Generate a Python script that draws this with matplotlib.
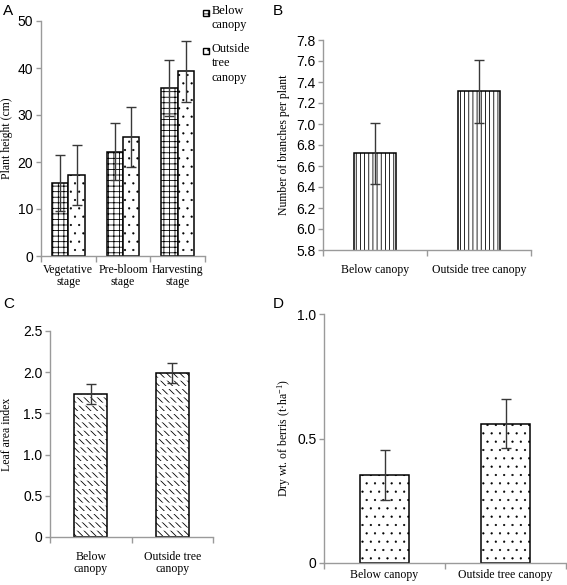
import matplotlib
matplotlib.use("Agg")
import matplotlib.pyplot as plt
import numpy as np
from matplotlib.patches import Rectangle

# ---------------- data ----------------
stages = ["Vegetative\nstage", "Pre-bloom\nstage", "Harvesting\nstage"]
height_below = [15.5, 22.2, 35.8]
height_below_err = [6.0, 6.0, 6.0]
height_outside = [17.2, 25.3, 39.3]
height_outside_err = [6.4, 6.4, 6.5]
series_names = ["Below\ncanopy", "Outside\ntree\ncanopy"]

sites_one_line = ["Below canopy", "Outside tree canopy"]
sites_two_line = ["Below\ncanopy", "Outside tree\ncanopy"]

branches = [6.72, 7.31]
branches_err = [0.29, 0.30]

lai = [1.74, 1.99]
lai_err = [0.12, 0.12]

berries = [0.355, 0.56]
berries_err = [0.10, 0.10]

# ---------------- style ----------------
plt.rcParams['hatch.linewidth'] = 0.6
plt.rcParams['mathtext.fontset'] = 'custom'
plt.rcParams['mathtext.rm'] = 'Liberation Serif'
plt.rcParams['mathtext.it'] = 'Liberation Serif:italic'
SERIF = "Liberation Serif"
SANS = "Liberation Sans"
GRAY = "#9a9a9a"
ERRC = "#383838"
TICK_FS = 10
LAB_FS = 8.5

W, H = 567, 585
fig = plt.figure(figsize=(W / 100, H / 100), dpi=100)


def make_ax(left, top, right, bottom):
    return fig.add_axes([left / W, 1 - bottom / H, (right - left) / W, (bottom - top) / H])


def set_hlw(patches, lw):
    for p in patches:
        if hasattr(p, "set_hatch_linewidth"):
            p.set_hatch_linewidth(lw)


def style(ax, n, labels, ylim, yticks, yfmt, xpad):
    for s in ["top", "right"]:
        ax.spines[s].set_visible(False)
    for s in ["left", "bottom"]:
        ax.spines[s].set_color(GRAY)
        ax.spines[s].set_linewidth(1.0)
    ax.set_xlim(-0.5, n - 0.5)
    ax.set_ylim(*ylim)
    ax.set_yticks(yticks)
    ax.set_yticklabels([yfmt(v) for v in yticks], fontfamily=SANS, fontsize=TICK_FS)
    ax.tick_params(axis='y', length=3.5, color=GRAY, width=1.0, pad=2)
    ax.set_xticks(range(n))
    ax.set_xticklabels(labels, fontfamily=SERIF, fontsize=LAB_FS, linespacing=1.0)
    ax.tick_params(axis='x', which='major', length=0, pad=xpad)
    ax.set_xticks(np.arange(-0.5, n, 1.0), minor=True)
    ax.tick_params(axis='x', which='minor', length=4, color=GRAY, width=1.0)
    ax.patch.set_alpha(0)


ekw = dict(ecolor=ERRC, elinewidth=1.0, capsize=3.5, capthick=1.0)
bkw = dict(color="white", edgecolor="black", linewidth=1.1)

# ---------------- Panel A ----------------
axA = make_ax(41, 21, 205, 256)
x = np.arange(len(stages))
bw = 0.3
axA.bar(x - bw / 2, height_below, bw, yerr=height_below_err, hatch="+++", error_kw=ekw, **bkw)
bo = axA.bar(x + bw / 2, height_outside, bw, yerr=height_outside_err, hatch="..", error_kw=ekw, **bkw)
set_hlw(bo.patches, 0.35)
style(axA, 3, stages, (0, 50), [0, 10, 20, 30, 40, 50], lambda v: f"{v:g}", 6)
axA.set_ylabel("Plant height (cm)", fontfamily=SERIF, fontsize=LAB_FS)
axA.yaxis.set_label_coords((13 - 41) / 164, 0.5)

# legend (marker aligned with the first text line, as in the original)
leg_hatches = ["+++", "..."]
leg_tops = [5, 43]
for name, hatch, top in zip(series_names, leg_hatches, leg_tops):
    r = Rectangle((203 / W, 1 - (top + 11) / H), 6 / W, 6 / H, transform=fig.transFigure,
                  facecolor="white", edgecolor="black", linewidth=1.0, hatch=hatch)
    fig.patches.append(r)
    fig.text(212 / W, 1 - top / H, name, fontfamily=SERIF, fontsize=8.8,
             ha="left", va="top", linespacing=1.25)

# ---------------- Panel B ----------------
axB = make_ax(323, 40, 531, 250)
xs = np.arange(2)
axB.bar(xs, branches, 0.4, yerr=branches_err, hatch="||||", error_kw=ekw, **bkw)
style(axB, 2, sites_one_line, (5.8, 7.8), np.round(np.arange(5.8, 7.81, 0.2), 1),
      lambda v: f"{v:.1f}", 10)
axB.set_ylabel("Number of branches per plant", fontfamily=SERIF, fontsize=LAB_FS)
axB.yaxis.set_label_coords((290 - 323) / 208, 0.5)

# ---------------- Panel C ----------------
axC = make_ax(50, 331, 213, 537)
cb = axC.bar(xs, lai, 0.4, hatch="\\\\\\\\\\", color="white", edgecolor="black", linewidth=0)
set_hlw(cb.patches, 0.6)
# white horizontal bands break the diagonal hatch into rows of short strokes
wb = axC.bar(xs, lai, 0.4, hatch="--", color="none", edgecolor="white", linewidth=0)
set_hlw(wb.patches, 2.2)
axC.bar(xs, lai, 0.4, yerr=lai_err, color="none", edgecolor="black", linewidth=1.1, error_kw=ekw)
style(axC, 2, sites_two_line, (0, 2.5), [0, 0.5, 1.0, 1.5, 2.0, 2.5],
      lambda v: "0" if v == 0 else f"{v:.1f}", 10)
axC.set_ylabel("Leaf area index", fontfamily=SERIF, fontsize=LAB_FS)
axC.yaxis.set_label_coords((13 - 50) / 163, 0.5)

# ---------------- Panel D ----------------
axD = make_ax(324, 314, 566, 563)
db = axD.bar(xs, berries, 0.4, yerr=berries_err, hatch="..", error_kw=ekw, **bkw)
set_hlw(db.patches, 0.35)
style(axD, 2, sites_one_line, (0, 1.0), [0, 0.5, 1.0],
      lambda v: "0" if v == 0 else f"{v:.1f}", 4)
axD.set_ylabel("Dry wt. of berris (t·ha$^{-1}$)", fontfamily=SERIF, fontsize=LAB_FS)
axD.yaxis.set_label_coords((293 - 324) / 242, 0.5)

# ---------------- panel letters ----------------
for lab, px, py in [("A", 3, 4), ("B", 273, 4), ("C", 3, 297), ("D", 273, 297)]:
    fig.text(px / W, 1 - py / H, lab, fontfamily=SANS, fontsize=11, ha="left", va="top")

fig.savefig("out.png", dpi=100)
